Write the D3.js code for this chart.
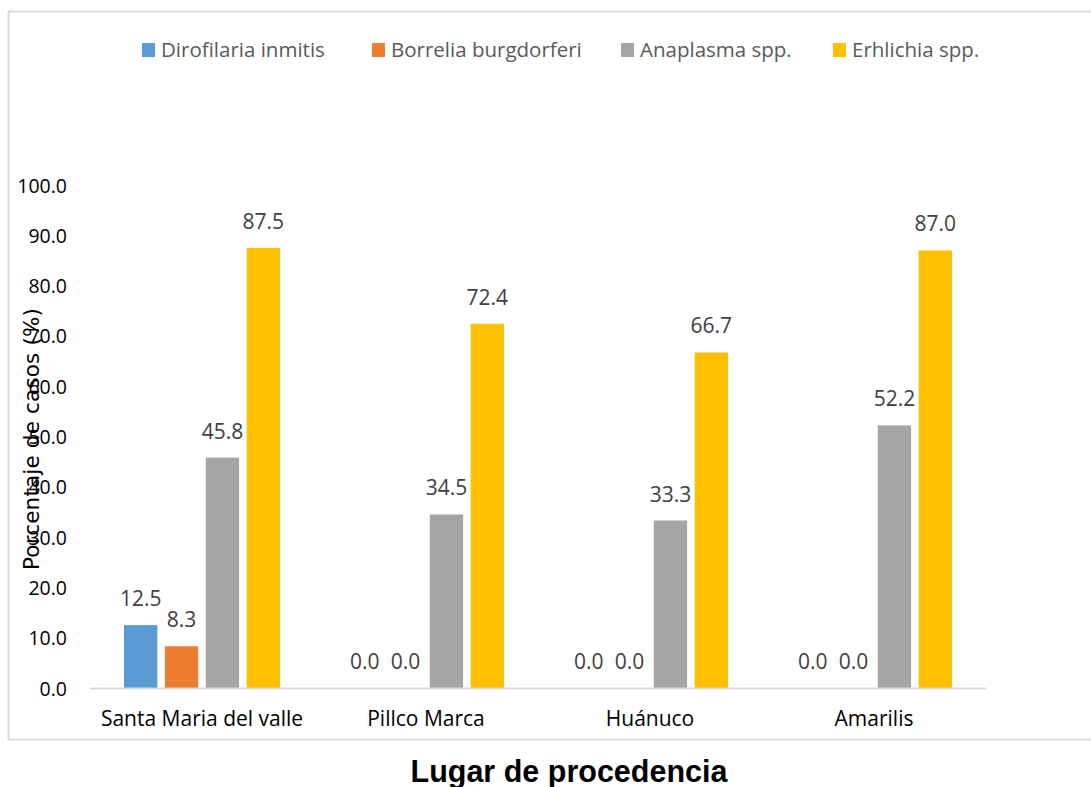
<!DOCTYPE html>
<html>
<head>
<meta charset="utf-8">
<script src="https://cdn.jsdelivr.net/npm/d3@7"></script>
<style>
  html, body { margin: 0; padding: 0; background: #fff; }
  svg { display: block; }
</style>
</head>
<body>
<svg id="chart" width="1091" height="787"></svg>
<script>
// Places of origin and the share of positive cases per pathogen
const categories = ["Santa Maria del valle", "Pillco Marca", "Huánuco", "Amarilis"];
const seriesNames = ["Dirofilaria inmitis", "Borrelia burgdorferi", "Anaplasma spp.", "Erhlichia spp."];
const dirofilaria = [12.5, 0.0, 0.0, 0.0];
const borrelia = [8.3, 0.0, 0.0, 0.0];
const anaplasma = [45.8, 34.5, 33.3, 52.2];
const erhlichia = [87.5, 72.4, 66.7, 87.0];
const yTicks = [0, 10, 20, 30, 40, 50, 60, 70, 80, 90, 100];
const colors = ["#5b9bd5", "#ed7d31", "#a5a5a5", "#ffc000"];

const seriesValues = [dirofilaria, borrelia, anaplasma, erhlichia];
const svg = d3.select("#chart");
const font = "'Open Sans', sans-serif";

// outer frame
svg.append("path")
  .attr("d", "M1091,11.5 H8.5 V739.5 H1091")
  .attr("fill", "none").attr("stroke", "#d9d9d9").attr("stroke-width", 2);

const plot = { left: 90, right: 986, top: 185, bottom: 688 };

const x0 = d3.scaleBand().domain(categories).range([plot.left, plot.right]).paddingInner(0).paddingOuter(0);
const x1 = d3.scaleBand().domain(d3.range(seriesNames.length))
  .range([x0.bandwidth() / 2 - 78, x0.bandwidth() / 2 + 78]).paddingInner(0.185).paddingOuter(0);
const y = d3.scaleLinear().domain([0, 100]).range([plot.bottom, plot.top]);

// y tick labels
const yAxis = d3.axisLeft(y).tickValues(yTicks).tickFormat(d3.format(".1f")).tickSize(0).tickPadding(0);
const yg = svg.append("g").attr("transform", `translate(67,0)`).call(yAxis);
yg.select(".domain").remove();
yg.selectAll("text").attr("font-family", font).attr("font-size", 19.5).attr("fill", "#000").attr("dy", "0.36em");

// bars and value labels
const groups = svg.append("g").selectAll("g").data(categories).join("g")
  .attr("transform", d => `translate(${x0(d)},0)`);

groups.each(function (cat, ci) {
  const g = d3.select(this);
  seriesValues.forEach((vals, si) => {
    const v = vals[ci];
    g.append("rect")
      .attr("x", x1(si)).attr("width", x1.bandwidth())
      .attr("y", y(v)).attr("height", y(0) - y(v))
      .attr("fill", colors[si]);
    g.append("text")
      .attr("x", x1(si) + x1.bandwidth() / 2)
      .attr("y", y(v) - 19)
      .attr("text-anchor", "middle")
      .attr("font-family", font).attr("font-size", 21).attr("fill", "#404040")
      .text(d3.format(".1f")(v));
  });
});

// baseline
svg.append("line")
  .attr("x1", plot.left).attr("x2", plot.right)
  .attr("y1", plot.bottom + 0.5).attr("y2", plot.bottom + 0.5)
  .attr("stroke", "#d9d9d9").attr("stroke-width", 2);

// category labels
const xAxis = d3.axisBottom(x0).tickSize(0).tickPadding(0);
const xg = svg.append("g").attr("transform", `translate(0,${plot.bottom + 38})`).call(xAxis);
xg.select(".domain").remove();
xg.selectAll("text").attr("font-family", font).attr("font-size", 21).attr("fill", "#000").attr("dy", 0);

// y axis title
svg.append("text")
  .attr("transform", "translate(39,439) rotate(-90)")
  .attr("text-anchor", "middle")
  .attr("font-family", "'DejaVu Sans', sans-serif").attr("font-size", 21.5).attr("fill", "#000")
  .attr("textLength", 262).attr("lengthAdjust", "spacing")
  .text("Porcentaje de casos (%)");

// x axis title
svg.append("text")
  .attr("x", 569).attr("y", 782)
  .attr("text-anchor", "middle")
  .attr("font-family", "'Liberation Sans', Arial, sans-serif").attr("font-weight", "bold")
  .attr("font-size", 30.5).attr("fill", "#000")
  .text("Lugar de procedencia");

// legend
const legendX = [142, 372, 621, 833];
const legend = svg.append("g").selectAll("g").data(seriesNames).join("g")
  .attr("transform", (d, i) => `translate(${legendX[i]},43)`);
legend.append("rect").attr("width", 13).attr("height", 14).attr("fill", (d, i) => colors[i]);
legend.append("text")
  .attr("x", 19).attr("y", 14)
  .attr("font-family", font).attr("font-size", 20.5).attr("fill", "#595959")
  .text(d => d);
</script>
</body>
</html>
